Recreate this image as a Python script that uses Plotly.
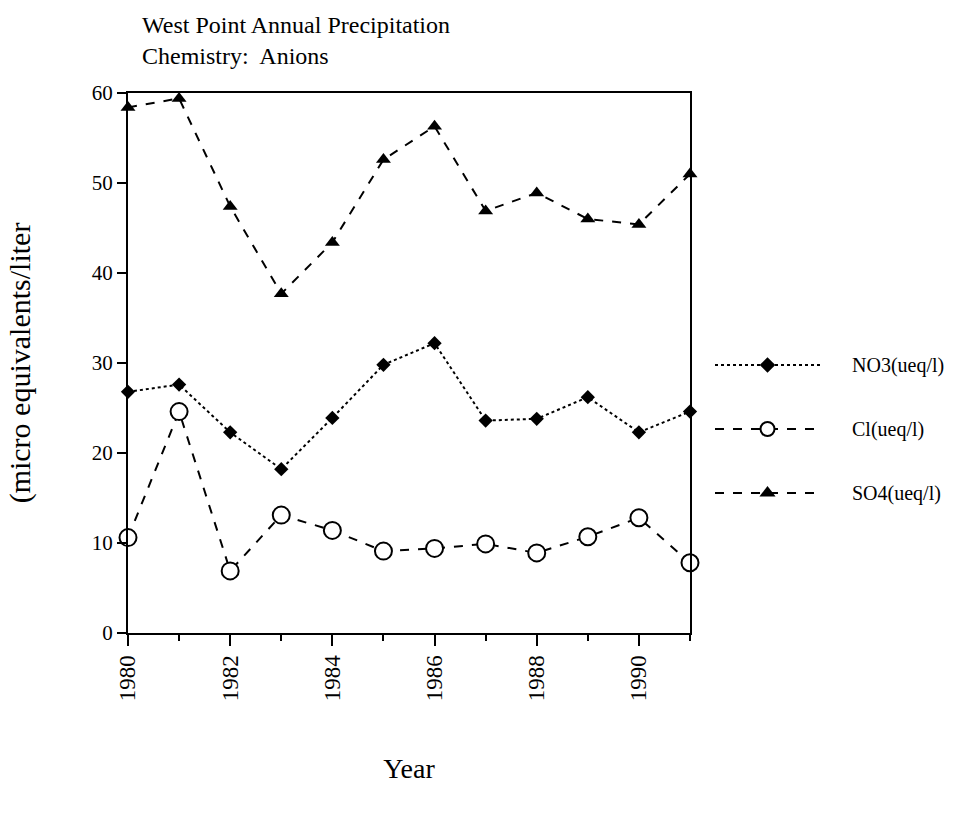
import plotly.graph_objects as go

years = list(range(1980, 1992))
no3 = [26.8, 27.6, 22.3, 18.2, 23.9, 29.8, 32.2, 23.6, 23.8, 26.2, 22.3, 24.6]
cl = [10.6, 24.6, 6.9, 13.1, 11.4, 9.1, 9.4, 9.9, 8.9, 10.7, 12.8, 7.8]
so4 = [58.4, 59.4, 47.4, 37.7, 43.4, 52.6, 56.3, 46.9, 48.9, 46.0, 45.4, 51.0]
series_names = ["NO3(ueq/l)", "Cl(ueq/l)", "SO4(ueq/l)"]

FONT = "Liberation Serif, Times New Roman, serif"

W, H = 970, 817
ML, MR, MT, MB = 128, 10, 93, 184
PW = W - ML - MR
PH = H - MT - MB
PLOT_RIGHT = 690  # pixel right edge of main plot


def px_x(p):
    return (p - ML) / PW


def px_y(p):
    return (H - MB - p) / PH


styles = [
    dict(dash="dot", symbol="diamond", size=11, lsize=12),
    dict(dash="dash", symbol="circle-open", size=17, lsize=14),
    dict(dash="dash", symbol="triangle-up", size=13, lsize=14),
]
legend_rows = [365, 429, 493]

fig = go.Figure()
for name, vals, st in zip(series_names, [no3, cl, so4], styles):
    if st["symbol"] == "circle-open":
        marker = dict(symbol="circle", size=st["size"], color="white",
                      line=dict(color="black", width=2))
    else:
        marker = dict(symbol=st["symbol"], size=st["size"], color="black")
    fig.add_trace(go.Scatter(
        x=years, y=vals, mode="lines+markers", name=name,
        line=dict(color="black", width=2, dash=st["dash"]),
        marker=marker, cliponaxis=False, showlegend=False,
    ))

# custom legend in a separate axis
for i, (name, st) in enumerate(zip(series_names, styles)):
    yv = 2 - i
    fig.add_trace(go.Scatter(
        x=[0, 1], y=[yv, yv], mode="lines",
        line=dict(color="black", width=2, dash=st["dash"]),
        xaxis="x2", yaxis="y2", showlegend=False, hoverinfo="skip",
    ))
    if st["symbol"] == "circle-open":
        marker = dict(symbol="circle", size=st["lsize"], color="white",
                      line=dict(color="black", width=2))
    else:
        marker = dict(symbol=st["symbol"], size=st["lsize"], color="black")
    fig.add_trace(go.Scatter(
        x=[0.5], y=[yv], mode="markers", marker=marker,
        xaxis="x2", yaxis="y2", showlegend=False, cliponaxis=False, hoverinfo="skip",
    ))
    fig.add_annotation(x=px_x(850), y=px_y(legend_rows[i]), xref="paper", yref="paper",
                       text=name, showarrow=False, xanchor="left", yanchor="middle",
                       font=dict(family=FONT, size=20, color="black"))

fig.add_annotation(
    text="West Point Annual Precipitation<br>Chemistry:  Anions",
    xref="paper", yref="paper", x=px_x(140), y=px_y(10),
    xanchor="left", yanchor="top", align="left", showarrow=False,
    font=dict(family=FONT, size=24, color="black"))

fig.update_layout(
    width=W, height=H,
    margin=dict(l=ML, r=MR, t=MT, b=MB),
    paper_bgcolor="white", plot_bgcolor="white",
    font=dict(family=FONT, color="black", size=20),
    showlegend=False,
    xaxis=dict(
        domain=[0, px_x(PLOT_RIGHT)],
        range=[1980, 1991], dtick=2, tick0=1980, ticks="outside", ticklen=11,
        tickwidth=2, tickcolor="black", tickangle=-90,
        minor=dict(dtick=1, ticklen=6, tickwidth=2, tickcolor="black", ticks="outside"),
        showline=True, linecolor="black", linewidth=2, mirror=True,
        showgrid=False, zeroline=False,
        tickfont=dict(family=FONT, size=23),
        title=dict(text="Year", font=dict(family=FONT, size=28), standoff=58),
    ),
    yaxis=dict(
        range=[0, 60], dtick=10, ticks="outside", ticklen=9, tickwidth=2,
        tickcolor="black", showline=True, linecolor="black", linewidth=2,
        mirror=True, showgrid=False, zeroline=False,
        tickfont=dict(family=FONT, size=21),
        title=dict(text="(micro equivalents/liter", font=dict(family=FONT, size=30), standoff=52),
    ),
    xaxis2=dict(domain=[px_x(715), px_x(820)], range=[0, 1], visible=False, anchor="y2"),
    yaxis2=dict(domain=[px_y(512.2), px_y(345.8)], range=[-0.3, 2.3], visible=False, anchor="x2"),
)

fig.write_html("out.html")
